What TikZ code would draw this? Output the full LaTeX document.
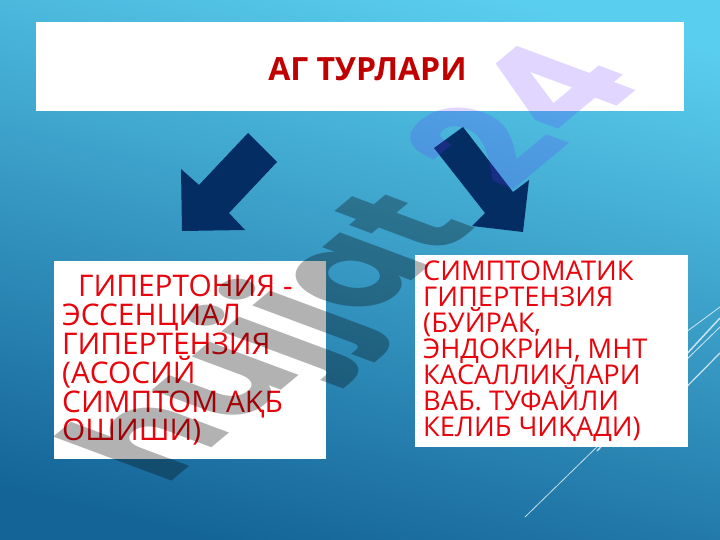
\documentclass[tikz,border=0pt]{standalone}
\usepackage{fontspec}
\setmainfont{Open Sans}
\newfontfamily\markfont{Poppins}
\definecolor{boxred}{RGB}{232,4,12}
\definecolor{titlered}{RGB}{192,0,0}
\definecolor{arrowblue}{RGB}{4,45,100}
\definecolor{markpurple}{RGB}{100,50,255}
\tikzset{
  whitebox/.style={fill=white,draw=none,inner sep=0pt,anchor=north west},
  bodytext/.style={anchor=north west,inner sep=0pt,align=left,text=boxred},
  deco/.style={white,opacity=.75,line width=.8pt},
  bigarrow/.style={fill=arrowblue,draw=none},
  wmark/.style={anchor=base west,inner sep=0pt,transform shape,font=\markfont\bfseries\fontsize{170}{170}\selectfont}
}
\begin{document}
\begin{tikzpicture}[x=1pt,y=-1pt]
\useasboundingbox (0,0) rectangle (720,540);
\shade[shading=axis,bottom color={rgb,255:red,20;green,100;blue,152},top color={rgb,255:red,90;green,206;blue,238},shading angle=-14] (-10,-10) rectangle (730,550);
% decorative lines
\coordinate (d1a) at (640,366); \coordinate (d1b) at (720,307);
\coordinate (d2a) at (597,451); \coordinate (d2b) at (720,318);
\coordinate (d3a) at (525,517); \coordinate (d3b) at (720,327);
\coordinate (d4a) at (640,434); \coordinate (d4b) at (720,353);
\draw[deco] (d1a) -- (d1b);
\draw[deco,line width=1.4pt] (d2a) -- (d2b);
\draw[deco] (d3a) -- (d3b);
\draw[deco,line width=1.2pt] (d4a) -- (d4b);
% boxes
\node[whitebox,minimum width=648pt,minimum height=89pt] (titlebox) at (36,22) {};
\node[whitebox,minimum width=272pt,minimum height=198pt] (leftbox) at (54,261) {};
\node[whitebox,minimum width=273pt,minimum height=192pt] (rightbox) at (415,255) {};
% arrows
\fill[bigarrow] (248,133) -- (277,162) -- (229,213) -- (245,230) -- (182,231) -- (181,169) -- (199,185) -- cycle;
\fill[bigarrow] (463,127) -- (434,148) -- (485,213) -- (472,226) -- (523,232) -- (529,180) -- (513,192) -- cycle;
% text
\node[anchor=center,inner sep=0pt,text=titlered,font=\bfseries\fontsize{32}{34}\selectfont] (title) at (367.5,69) {АГ ТУРЛАРИ};
\node[bodytext,font=\fontsize{29.8}{28.8}\selectfont] (lefttext) at (62,275) {\hspace*{16pt}ГИПЕРТОНИЯ -\\ЭССЕНЦИАЛ\\ГИПЕРТЕНЗИЯ\\(АСОСИЙ\\СИМПТОМ АҚБ\\ОШИШИ)};
\node[bodytext,font=\fontsize{27.2}{26}\selectfont] (righttext) at (423,261) {СИМПТОМАТИК\\ГИПЕРТЕНЗИЯ\\(БУЙРАК,\\ЭНДОКРИН, МНТ\\КАСАЛЛИКЛАРИ\\ВАБ. ТУФАЙЛИ\\КЕЛИБ ЧИҚАДИ)};
% watermark
\begin{scope}[cm={0.61,0.51,-0.94,0.35,(165,487)}]
\node[wmark,text=black,text opacity=.3] (mark1) at (0,0) {hujjat};
\end{scope}
\begin{scope}[cm={0.65,0.54,-0.97,0.36,(511,194)}]
\node[wmark,text=markpurple,text opacity=.2] (mark2) at (0,0) {24};
\end{scope}
\end{tikzpicture}
\end{document}
